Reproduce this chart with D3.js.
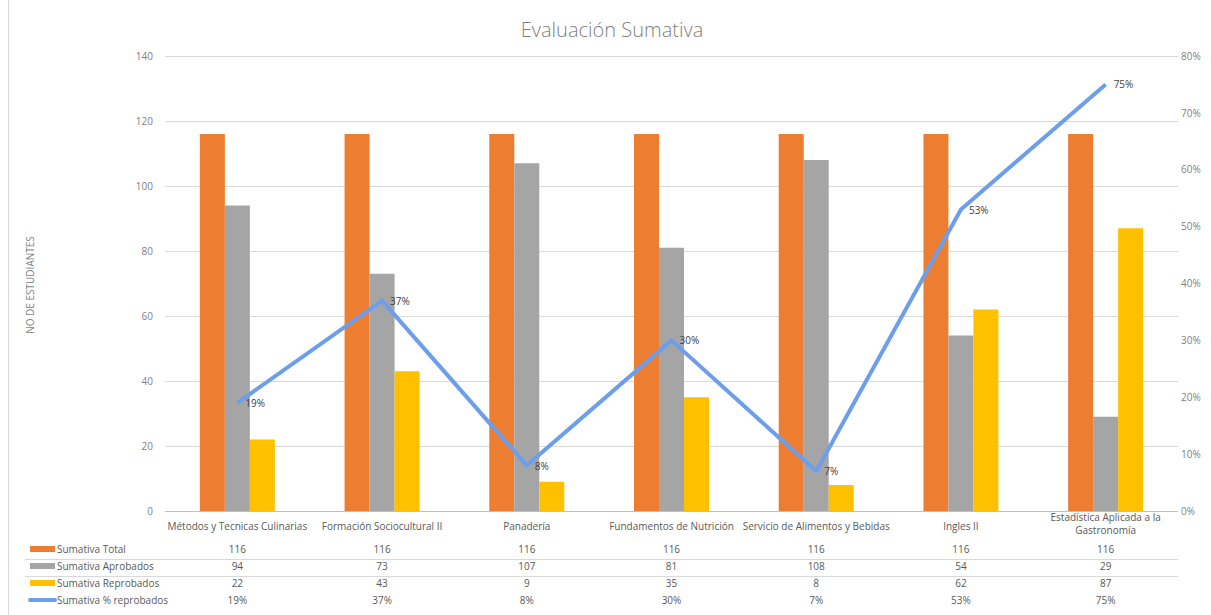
<!DOCTYPE html>
<html><head><meta charset="utf-8">
<script src="https://cdn.jsdelivr.net/npm/d3@7"></script>
<style>body{margin:0;background:#fff;}svg{display:block;font-family:"Open Sans",sans-serif;}</style>
</head><body>
<svg id="c" width="1211" height="615"></svg>
<script>
const categories = ["Métodos y Tecnicas Culinarias","Formación Sociocultural II","Panadería","Fundamentos de Nutrición","Servicio de Alimentos y Bebidas","Ingles II","Estadística Aplicada a la Gastronomía"];
const catLines = [["Métodos y Tecnicas Culinarias"],["Formación Sociocultural II"],["Panadería"],["Fundamentos de Nutrición"],["Servicio de Alimentos y Bebidas"],["Ingles II"],["Estadística Aplicada a la","Gastronomía"]];
const seriesNames = ["Sumativa Total","Sumativa Aprobados","Sumativa Reprobados","Sumativa % reprobados"];
const total = [116,116,116,116,116,116,116];
const aprobados = [94,73,107,81,108,54,29];
const reprobados = [22,43,9,35,8,62,87];
const pctReprobados = [0.19,0.37,0.08,0.30,0.07,0.53,0.75];
const leftTicks = [0,20,40,60,80,100,120,140];
const rightTicks = [0,0.1,0.2,0.3,0.4,0.5,0.6,0.7,0.8];
const colors = ["#ED7D31","#A5A5A5","#FFC000","#6D9EEB"];

const svg = d3.select("#c");
const L = 165, R = 1178, T = 56, B = 511;
const x = d3.scaleBand().domain(categories).range([L,R]).paddingInner(0).paddingOuter(0);
const yL = d3.scaleLinear().domain([0,140]).range([B,T]);
const yR = d3.scaleLinear().domain([0,0.8]).range([B,T]);
const sub = d3.scaleBand().domain([0,1,2]).range([0,75]);
const groupOffset = (x.bandwidth()-75)/2;

// border
svg.append("line").attr("x1",8.5).attr("x2",8.5).attr("y1",0).attr("y2",615).attr("stroke","#d9d9d9");

// title
svg.append("text").attr("x",612).attr("y",37).attr("text-anchor","middle")
  .attr("font-size",20).attr("fill","#7f7f7f").attr("font-weight",300).text("Evaluación Sumativa");

// gridlines
svg.append("g").selectAll("line").data(leftTicks).join("line")
  .attr("x1",L).attr("x2",R).attr("y1",d=>yL(d)+0.5).attr("y2",d=>yL(d)+0.5)
  .attr("stroke",d=>d===0?"#bfbfbf":"#d9d9d9");

// left axis
const gl = svg.append("g").attr("transform",`translate(${L-12},0)`)
  .call(d3.axisLeft(yL).tickValues(leftTicks).tickSize(0).tickPadding(0));
gl.select(".domain").remove();
gl.selectAll("text").attr("fill","#7f7f7f").attr("font-size",10).attr("font-family","Open Sans");

// right axis
const gr = svg.append("g").attr("transform",`translate(${R+3},0)`)
  .call(d3.axisRight(yR).tickValues(rightTicks).tickFormat(d3.format(".0%")).tickSize(0).tickPadding(0));
gr.select(".domain").remove();
gr.selectAll("text").attr("fill","#7f7f7f").attr("font-size",10).attr("font-family","Open Sans");

// y title
svg.append("text").attr("transform","translate(34,285) rotate(-90)").attr("text-anchor","middle")
  .attr("font-size",10).attr("fill","#7f7f7f").text("NO DE ESTUDIANTES");

// bars
const barSeries = [total,aprobados,reprobados];
barSeries.forEach((vals,si)=>{
  svg.append("g").selectAll("rect").data(vals).join("rect")
    .attr("x",(d,i)=>x(categories[i])+groupOffset+sub(si))
    .attr("width",sub.bandwidth())
    .attr("y",d=>yL(d)).attr("height",d=>B-yL(d))
    .attr("fill",colors[si]);
});

// line
const line = d3.line().x((d,i)=>x(categories[i])+x.bandwidth()/2).y(d=>yR(d));
svg.append("path").datum(pctReprobados).attr("d",line).attr("fill","none")
  .attr("stroke",colors[3]).attr("stroke-width",4).attr("stroke-linejoin","round");
svg.append("g").selectAll("text").data(pctReprobados).join("text")
  .attr("x",(d,i)=>x(categories[i])+x.bandwidth()/2+8)
  .attr("y",d=>yR(d)+4)
  .attr("font-size",10).attr("fill","#404040").text(d=>d3.format(".0%")(d));

// category labels
const cl = svg.append("g");
catLines.forEach((lines,i)=>{
  const cx = x(categories[i])+x.bandwidth()/2;
  const t = cl.append("text").attr("text-anchor","middle").attr("font-size",10).attr("fill","#595959");
  const y0 = lines.length>1 ? 521 : 530;
  lines.forEach((s,j)=>t.append("tspan").attr("x",cx).attr("y",y0+j*13).text(s));
});

// data table
const rows = [total,aprobados,reprobados,pctReprobados];
const rowY = [553,570,587,604];
rows.forEach((vals,ri)=>{
  const g = svg.append("g");
  if(ri===3){
    g.append("line").attr("x1",30).attr("x2",55).attr("y1",rowY[ri]-4).attr("y2",rowY[ri]-4)
      .attr("stroke",colors[3]).attr("stroke-width",4).attr("stroke-linecap","round");
  } else {
    g.append("rect").attr("x",30).attr("y",rowY[ri]-7).attr("width",25).attr("height",6).attr("fill",colors[ri]);
  }
  g.append("text").attr("x",57).attr("y",rowY[ri]).attr("font-size",10).attr("fill","#595959").text(seriesNames[ri]);
  g.selectAll("text.v").data(vals).join("text").attr("class","v")
    .attr("x",(d,i)=>x(categories[i])+x.bandwidth()/2).attr("y",rowY[ri])
    .attr("text-anchor","middle").attr("font-size",10).attr("fill","#595959")
    .text(d=>ri===3?d3.format(".0%")(d):d);
});
[559.5,576.5].forEach(yy=>svg.append("line").attr("x1",25).attr("x2",R).attr("y1",yy).attr("y2",yy).attr("stroke","#d9d9d9"));
</script>
</body></html>
